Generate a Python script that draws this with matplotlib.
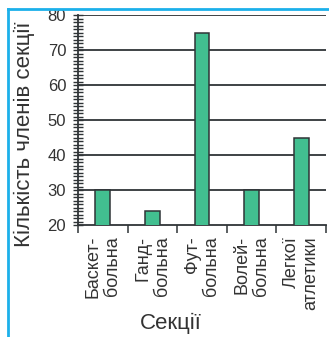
import matplotlib.pyplot as plt
from matplotlib.lines import Line2D
from matplotlib.ticker import MultipleLocator, FixedLocator

plt.rcParams['font.family'] = ['Liberation Sans', 'DejaVu Sans']

# дані
sections = ['Баскет-\nбольна', 'Ганд-\nбольна', 'Фут-\nбольна', 'Волей-\nбольна', 'Легкої\nатлетики']
members = [30, 24, 75, 30, 45]
y_ticks = [20, 30, 40, 50, 60, 70, 80]

dark = '#2f3437'
bar_color = '#42bf90'
frame_blue = '#1cb0ea'

fig = plt.figure(figsize=(3.29, 3.37), dpi=100)
ax = fig.add_axes([78 / 329, 1 - 225 / 337, (326 - 78) / 329, (225 - 15) / 337])

pos = list(range(len(sections)))
ax.bar(pos, members, width=0.3, bottom=0, color=bar_color,
       edgecolor=dark, linewidth=1.1, zorder=3)

ax.set_xlim(-0.5, len(sections) - 0.5)
ax.set_ylim(20, 80)

# сітка
for v in y_ticks[1:]:
    ax.axhline(v, color=dark, linewidth=1.3, zorder=1)

ax.spines['top'].set_visible(False)
ax.spines['right'].set_visible(False)
ax.spines['left'].set_color(dark)
ax.spines['bottom'].set_color(dark)
ax.spines['left'].set_linewidth(1.3)
ax.spines['bottom'].set_linewidth(1.3)

ax.set_yticks(y_ticks)
ax.yaxis.set_minor_locator(MultipleLocator(1))
ax.tick_params(axis='y', which='both', direction='inout', length=7,
               width=1, color=dark, labelsize=12, labelcolor='#333333', pad=5)

ax.set_xticks(pos)
ax.set_xticklabels(sections, rotation=90, ha='center', va='top',
                   multialignment='right')
ax.xaxis.set_minor_locator(FixedLocator([p - 0.5 for p in pos] + [len(sections) - 0.5]))
ax.tick_params(axis='x', which='major', length=0, labelsize=13,
               labelcolor='#333333', pad=8)
ax.tick_params(axis='x', which='minor', direction='out', length=6,
               width=1.1, color=dark)

ax.set_xlabel('Секції', fontsize=16, color='#333333', va='top')
ax.xaxis.set_label_coords(0.375, -0.42)
ax.set_ylabel('Кількість членів секції', fontsize=16, color='#333333')
ax.yaxis.set_label_coords(-0.175, 0.43)

# синя рамка
fig.add_artist(Line2D([7.5 / 329, 7.5 / 329], [0, 1 - 9 / 337],
                      color=frame_blue, linewidth=2, transform=fig.transFigure))
fig.add_artist(Line2D([7.5 / 329, 1], [1 - 9 / 337, 1 - 9 / 337],
                      color=frame_blue, linewidth=2, transform=fig.transFigure))

fig.savefig('out.png', dpi=100)
